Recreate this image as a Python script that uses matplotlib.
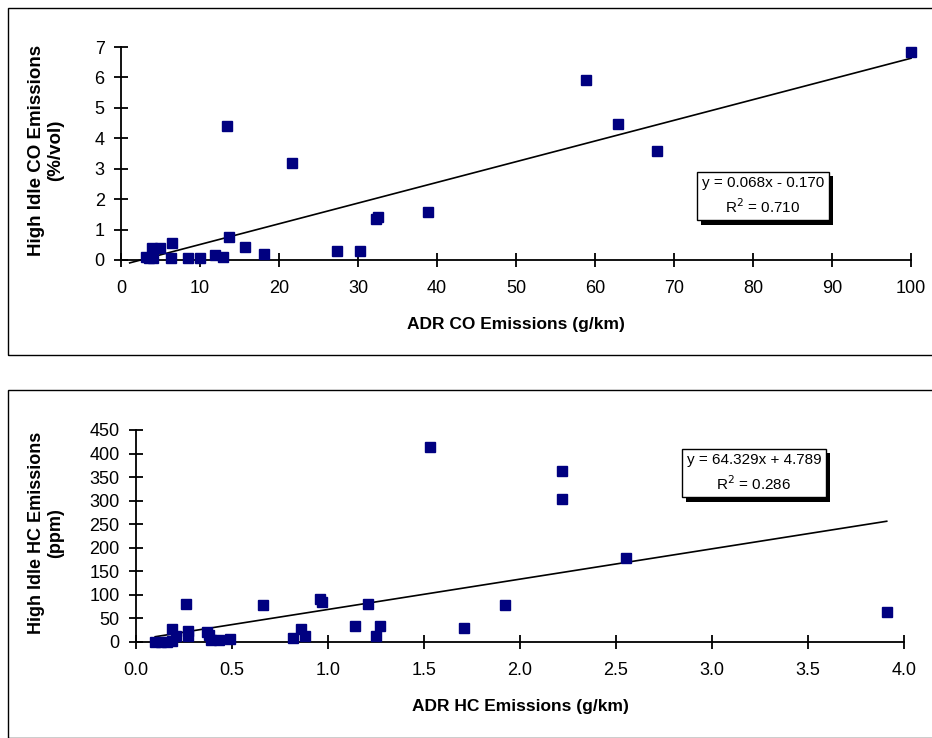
import matplotlib.pyplot as plt
import matplotlib.patheffects as pe
from matplotlib.patches import Rectangle

plt.rcParams['font.family'] = ['Liberation Sans', 'DejaVu Sans']

# ADR CO vs high idle CO
co_adr = [3.2, 3.6, 3.9, 4.1, 4.9, 6.3, 6.4, 8.5, 10.0, 11.9, 12.9, 13.4, 13.7,
          15.7, 18.1, 21.6, 27.3, 30.3, 32.3, 32.5, 38.9, 58.9, 62.9, 67.8, 100.0]
co_idle = [0.10, 0.05, 0.38, 0.05, 0.40, 0.05, 0.55, 0.05, 0.05, 0.16, 0.11, 4.42, 0.77,
           0.43, 0.21, 3.19, 0.31, 0.31, 1.35, 1.42, 1.58, 5.90, 4.47, 3.58, 6.84]
co_slope, co_icept, co_r2 = 0.068, -0.170, 0.710
co_fit_range = [1.1, 100.0]

# ADR HC vs high idle HC
hc_adr = [0.10, 0.13, 0.16, 0.19, 0.19, 0.21, 0.26, 0.27, 0.27, 0.37, 0.38, 0.39, 0.43,
          0.49, 0.66, 0.82, 0.86, 0.88, 0.96, 0.97, 1.14, 1.21, 1.25, 1.27, 1.53, 1.71,
          1.92, 2.22, 2.22, 2.55, 3.91]
hc_idle = [1, 1, 0, 2, 28, 12, 81, 23, 12, 22, 15, 4, 4,
           6, 78, 9, 27, 13, 92, 84, 34, 80, 13, 34, 414, 30,
           78, 363, 304, 178, 64]
hc_slope, hc_icept, hc_r2 = 64.329, 4.789, 0.286
hc_fit_range = [0.10, 3.91]

fig = plt.figure(figsize=(9.32, 7.38), dpi=100)

# panel borders
for y0, h in [(1 - 355 / 738, (355 - 8) / 738), (0.0, (738 - 390) / 738)]:
    fig.patches.append(Rectangle((8 / 932, y0), 1.0, h, transform=fig.transFigure,
                                 fill=False, edgecolor='black', linewidth=1.0))


def scatter_panel(rect, x, y, slope, icept, r2, fit_range, xlim, ylim,
                  xticks, yticks, xfmt, xlabel, ylabel, ylabel_size, ylabel_xy,
                  boxpos, sign):
    ax = fig.add_axes(rect)
    ax.plot(x, y, 's', color='#000080', markersize=7.5, linestyle='none',
            zorder=3, clip_on=False)
    fx = fit_range
    fy = [slope * v + icept for v in fx]
    ax.plot(fx, fy, color='black', linewidth=1.2, zorder=2, clip_on=False)
    ax.set_xlim(*xlim)
    ax.set_ylim(*ylim)
    ax.set_xticks(xticks)
    ax.set_xticklabels([xfmt.format(t) for t in xticks])
    ax.set_yticks(yticks)
    for s in ['top', 'right']:
        ax.spines[s].set_visible(False)
    for s in ['left', 'bottom']:
        ax.spines[s].set_linewidth(1.3)
    ax.tick_params(direction='inout', length=9.5, width=1.3, labelsize=13)
    ax.tick_params(axis='x', pad=10)
    ax.tick_params(axis='y', pad=7)
    ax.set_xlabel(xlabel, fontsize=12.5, fontweight='bold', labelpad=14)
    ax.set_ylabel(ylabel, fontsize=ylabel_size, fontweight='bold', linespacing=1.15)
    ax.yaxis.set_label_coords(*ylabel_xy)

    # equation box with a drop shadow
    txt = f"y = {slope:.3f}x {sign} {abs(icept):.3f}\nR$^2$ = {r2:.3f}"
    t = ax.text(boxpos[0], boxpos[1], txt, transform=fig.transFigure,
                ha='center', va='center', fontsize=11, linespacing=1.45,
                multialignment='center',
                bbox=dict(boxstyle='square,pad=0.3', facecolor='white',
                          edgecolor='black', linewidth=1.0))
    t.get_bbox_patch().set_path_effects([
        pe.SimplePatchShadow(offset=(3, -3), shadow_rgbFace='black', alpha=1.0),
        pe.Normal()])
    return ax


ax1 = scatter_panel([121 / 932, 1 - 260 / 738, (911 - 121) / 932, (260 - 47) / 738],
                    co_adr, co_idle, co_slope, co_icept, co_r2, co_fit_range,
                    (0, 100), (0, 7), list(range(0, 101, 10)), list(range(0, 8)),
                    "{:d}", "ADR CO Emissions (g/km)", "High Idle CO Emissions\n(%/vol)",
                    13.5, (-0.072, 0.515), (763 / 932, 1 - 196 / 738), '-')

ax2 = scatter_panel([136 / 932, 1 - 642 / 738, (904 - 136) / 932, (642 - 430) / 738],
                    hc_adr, hc_idle, hc_slope, hc_icept, hc_r2, hc_fit_range,
                    (0, 4), (0, 450), [i * 0.5 for i in range(9)], list(range(0, 451, 50)),
                    "{:.1f}", "ADR HC Emissions (g/km)", "High Idle HC Emissions\n(ppm)",
                    13, (-0.094, 0.515), (754 / 932, 1 - 473 / 738), '+')

fig.savefig('out.png', dpi=100)
